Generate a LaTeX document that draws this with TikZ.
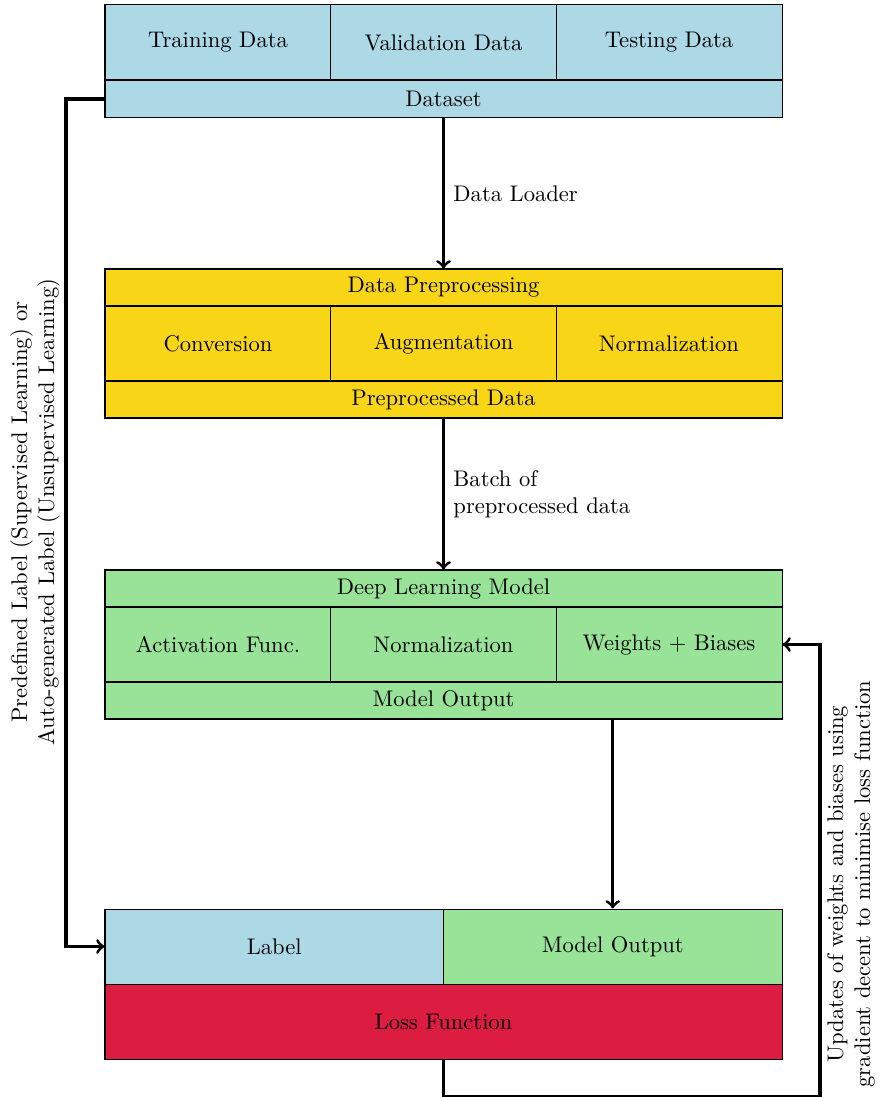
\documentclass[tikz,border=0pt]{standalone}
\usetikzlibrary{calc}
\definecolor{dsblue}{RGB}{173,216,230}
\definecolor{prepyellow}{RGB}{249,213,23}
\definecolor{modelgreen}{RGB}{152,227,152}
\definecolor{lossred}{RGB}{220,28,64}
\def\pxu{0.4425pt}
\begin{document}
\begin{tikzpicture}[x=0.4425pt,y=-0.4425pt,
  cell/.style={draw=black,line width=0.45pt,inner sep=0pt,minimum width=226*\pxu,minimum height=75*\pxu},
  wide/.style={cell,minimum width=677*\pxu,minimum height=37*\pxu},
  half/.style={cell,minimum width=338.5*\pxu,minimum height=75*\pxu},
  conn/.style={->,line width=1.35pt},
  note/.style={align=left,anchor=west,inner sep=0pt}]
\useasboundingbox (0,0) rectangle (879,1097);

% dataset block
\node[cell,fill=dsblue] (train) at (218,42.5) {Training Data};
\node[cell,fill=dsblue] (valid) at (443.5,42.5) {Validation Data};
\node[cell,fill=dsblue] (test)  at (669,42.5) {Testing Data};
\node[wide,fill=dsblue] (dataset) at (443.5,99) {Dataset};

% preprocessing block
\node[wide,fill=prepyellow] (prep) at (443.5,287.5) {Data Preprocessing};
\node[cell,fill=prepyellow] (conv) at (218,343.5) {Conversion};
\node[cell,fill=prepyellow] (aug)  at (443.5,343.5) {Augmentation};
\node[cell,fill=prepyellow] (norm) at (669,343.5) {Normalization};
\node[wide,fill=prepyellow] (prepout) at (443.5,399.5) {Preprocessed Data};

% model block
\node[wide,fill=modelgreen] (model) at (443.5,588.5) {Deep Learning Model};
\node[cell,fill=modelgreen] (act)   at (218,644.5) {Activation Func.};
\node[cell,fill=modelgreen] (mnorm) at (443.5,644.5) {Normalization};
\node[cell,fill=modelgreen] (wb)    at (669,644.5) {Weights + Biases};
\node[wide,fill=modelgreen] (mout) at (443.5,700.5) {Model Output};

% loss block
\node[half,fill=dsblue] (label) at (274.25,946.5) {Label};
\node[half,fill=modelgreen] (lmout) at (612.75,946.5) {Model Output};
\node[wide,fill=lossred,minimum height=75*\pxu] (loss) at (443.5,1021.5) {Loss Function};

% forward flow
\draw[conn] (dataset.south) -- (prep.north);
\node[note] (dl) at (453,194) {Data Loader};
\draw[conn] (prepout.south) -- (model.north);
\node[note] (batch) at (453,494) {Batch of\\preprocessed data};
\draw[conn] (mout.south -| lmout.north) -- (lmout.north);

% label feedback on the left
\coordinate (lcorner) at (66,946.5);
\draw[conn] (dataset.west) -| (lcorner) -- (label.west);
\node[rotate=90,align=center,inner sep=0pt] (ltext) at (35,512)
  {Predefined Label (Supervised Learning) or\\Auto-generated Label (Unsupervised Learning)};

% weight update loop on the right
\coordinate (rcorner) at (820,644.5);
\draw[conn] (loss.south) -- ++(0,37) -| (rcorner) -- (wb.east);
\node[rotate=90,align=center,inner sep=0pt] (rtext) at (851,884)
  {Updates of weights and biases using\\gradient decent to minimise loss function};
\end{tikzpicture}
\end{document}
